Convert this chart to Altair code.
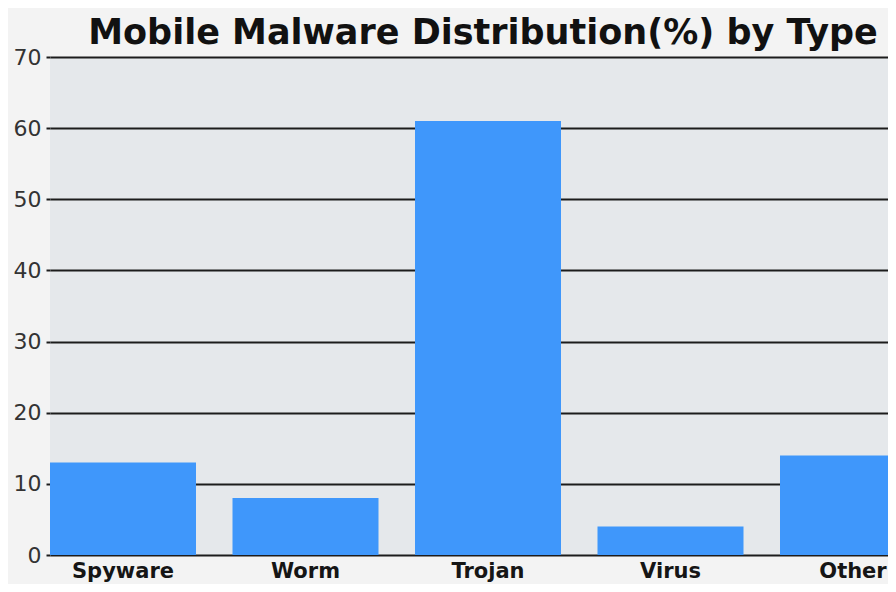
import altair as alt
import pandas as pd

categories = ["Spyware", "Worm", "Trojan", "Virus", "Other"]
values = [13, 8, 61, 4, 14]
y_ticks = [0, 10, 20, 30, 40, 50, 60, 70]

df = pd.DataFrame({"type": categories, "pct": values})

chart = alt.Chart(df).mark_bar(color="#3f97fb").encode(
    x=alt.X("type:N", sort=categories, title=None,
            scale=alt.Scale(range=[0, 876], paddingInner=0.2, paddingOuter=0),
            axis=alt.Axis(labelAngle=0, ticks=False, domain=False, grid=False,
                          labelFont="DejaVu Sans", labelFontSize=21, labelFontWeight="bold",
                          labelColor="#151515", labelPadding=5)),
    y=alt.Y("pct:Q", title=None,
            scale=alt.Scale(domain=[0, 70], nice=False),
            axis=alt.Axis(values=y_ticks, domain=False, grid=True, gridColor="#1c1c1c",
                          gridWidth=2, gridOpacity=1, tickColor="#1c1c1c", tickWidth=2,
                          tickSize=4, labelFont="DejaVu Sans", labelFontSize=22,
                          labelColor="#333333", labelPadding=5)),
).properties(
    width=838, height=498,
    title=alt.TitleParams("Mobile Malware Distribution(%) by Type", font="DejaVu Sans",
                          fontSize=35, fontWeight="bold", color="#111111",
                          anchor="middle", dx=14, offset=-5),
    autosize=alt.AutoSizeParams(type="none"),
    padding={"left": 42, "top": 49, "right": 0, "bottom": 29},
    background="#f3f3f3",
).configure_view(
    stroke=None,
    fill="#e5e8eb",
)

chart.save("out.html", embed_options={"renderer": "svg", "actions": False})
